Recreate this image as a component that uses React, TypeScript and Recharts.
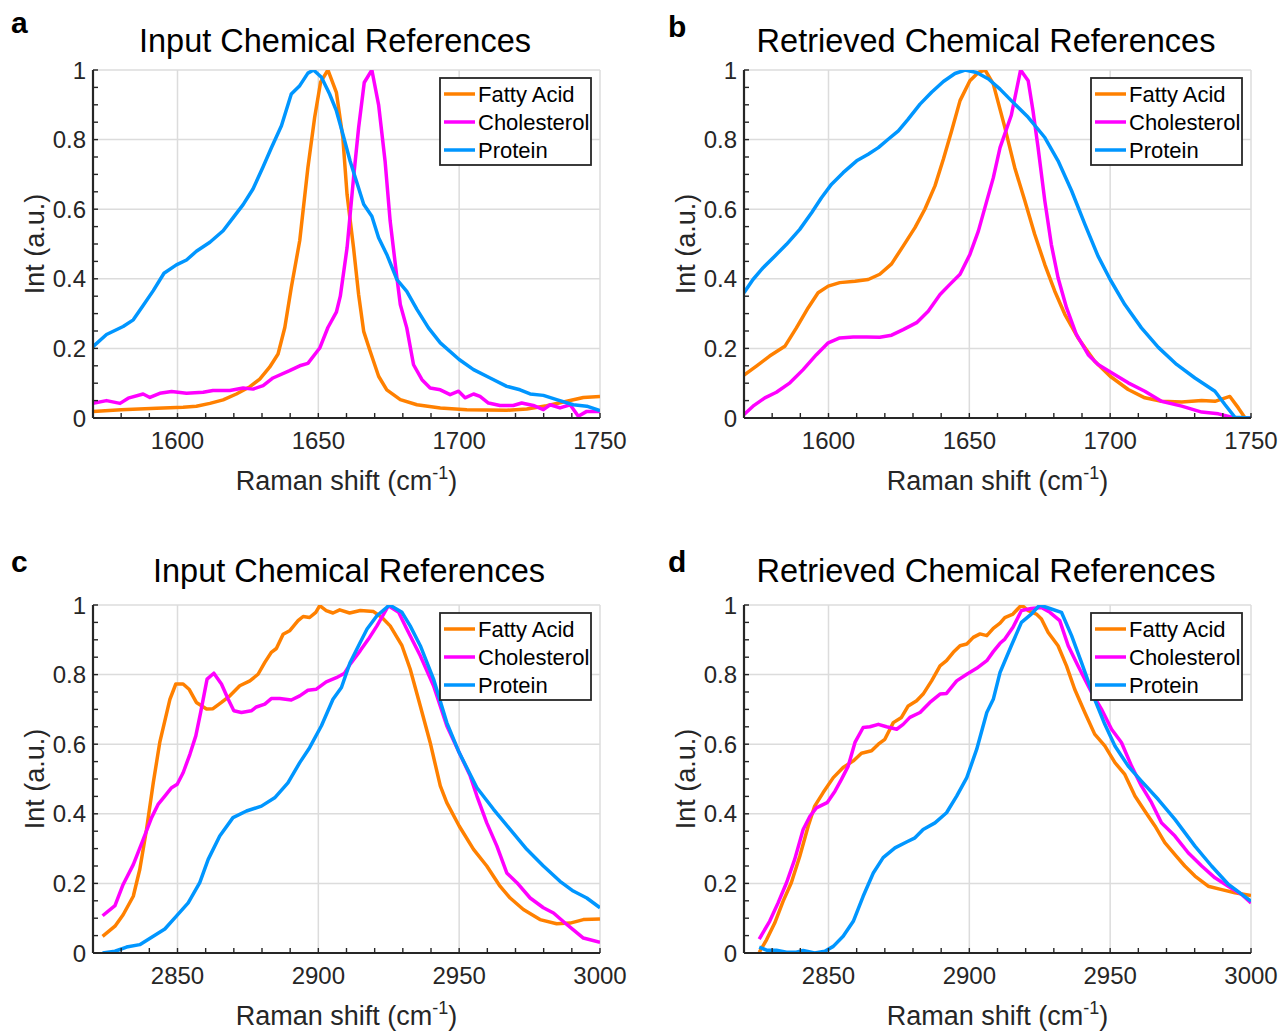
import React from 'react';
import { LineChart, Line, XAxis, YAxis, CartesianGrid } from 'recharts';

// ---------------- data ----------------
const seriesNames = ['Fatty Acid', 'Cholesterol', 'Protein'];
const seriesColors = ['#FF8000', '#FF00FF', '#0096FF'];

const lowDomain = [1570, 1750];
const lowTicks = [1580, 1590, 1600, 1610, 1620, 1630, 1640, 1650, 1660, 1670, 1680, 1690, 1700, 1710, 1720, 1730, 1740, 1750];
const lowMajor = [1600, 1650, 1700, 1750];
const highDomain = [2820, 3000];
const highTicks = [2830, 2840, 2850, 2860, 2870, 2880, 2890, 2900, 2910, 2920, 2930, 2940, 2950, 2960, 2970, 2980, 2990, 3000];
const highMajor = [2850, 2900, 2950, 3000];
const yTicks = [0, 0.05, 0.1, 0.15, 0.2, 0.25, 0.3, 0.35, 0.4, 0.45, 0.5, 0.55, 0.6, 0.65, 0.7, 0.75, 0.8, 0.85, 0.9, 0.95, 1];
const yMajor = [0, 0.2, 0.4, 0.6, 0.8, 1];
const yMajorLabels = ['0', '0.2', '0.4', '0.6', '0.8', '1'];

const panelTitles = ['Input Chemical References', 'Retrieved Chemical References'];
const panelLetters = ['a', 'b', 'c', 'd'];

type P = [number, number];

const aFatty: P[] = [[1570,0.019],[1580,0.024],[1592.6,0.028],[1602,0.031],[1606.7,0.034],[1611.5,0.042],[1616.2,0.052],[1620.9,0.069],[1625.7,0.09],[1629.2,0.112],[1632.7,0.146],[1635.7,0.184],[1638.1,0.26],[1640.4,0.375],[1643.4,0.51],[1646.3,0.72],[1648.7,0.864],[1650.8,0.965],[1653.4,1.0],[1656.4,0.936],[1658.7,0.806],[1660.2,0.642],[1662.5,0.489],[1664.3,0.355],[1666.1,0.249],[1668.4,0.192],[1671.4,0.12],[1674.3,0.081],[1679.1,0.053],[1685,0.038],[1693.3,0.029],[1702.7,0.024],[1716.9,0.022],[1724,0.026],[1731.1,0.035],[1738.2,0.048],[1744.1,0.059],[1750,0.062]];
const aChol: P[] = [[1570,0.042],[1574.8,0.05],[1579.6,0.042],[1582.5,0.057],[1587.8,0.069],[1590.2,0.059],[1593.7,0.071],[1597.9,0.076],[1603.2,0.071],[1609.1,0.074],[1612.6,0.079],[1618.6,0.079],[1623.3,0.086],[1626.8,0.083],[1630.4,0.093],[1633.9,0.115],[1639.8,0.136],[1643.4,0.15],[1646.3,0.157],[1650.5,0.201],[1653.4,0.26],[1656.4,0.304],[1657.8,0.35],[1660.2,0.489],[1662.5,0.69],[1664.3,0.834],[1666.3,0.964],[1669,1.0],[1671.4,0.9],[1673.7,0.738],[1675.5,0.566],[1677.9,0.403],[1679.1,0.326],[1681.4,0.259],[1683.8,0.153],[1686.8,0.11],[1689.7,0.086],[1693.3,0.081],[1696.8,0.067],[1699.8,0.077],[1702.1,0.058],[1705.1,0.069],[1707.4,0.062],[1710.4,0.043],[1714.5,0.036],[1719.2,0.036],[1722.2,0.043],[1726.3,0.036],[1729.9,0.024],[1732.3,0.038],[1735.8,0.029],[1739.4,0.038],[1742.3,0.005],[1745.3,0.019],[1750,0.019]];
const aProt: P[] = [[1570,0.205],[1574.8,0.24],[1580.7,0.263],[1584.3,0.282],[1587.8,0.323],[1591.4,0.366],[1595.2,0.416],[1599.6,0.44],[1603.2,0.454],[1606.7,0.479],[1611.5,0.505],[1616.2,0.538],[1619.7,0.575],[1623.3,0.613],[1626.8,0.658],[1630.4,0.722],[1633.3,0.776],[1636.9,0.84],[1640.4,0.931],[1643.4,0.955],[1646.3,0.991],[1648.3,1.0],[1651.1,0.979],[1654,0.931],[1656.4,0.883],[1658.7,0.816],[1661.3,0.738],[1666.1,0.614],[1669,0.58],[1671.4,0.518],[1674.3,0.47],[1677.9,0.398],[1681.4,0.364],[1685,0.312],[1689.1,0.259],[1693.3,0.216],[1700,0.168],[1705.1,0.139],[1711,0.115],[1716.9,0.091],[1721.6,0.081],[1725.2,0.069],[1729.9,0.065],[1734.6,0.053],[1740.5,0.038],[1745.3,0.034],[1750,0.021]];

const bFatty: P[] = [[1570,0.123],[1574.4,0.149],[1579.1,0.178],[1584.5,0.206],[1588.6,0.259],[1592.8,0.317],[1596.3,0.36],[1599.9,0.379],[1604,0.389],[1609.4,0.393],[1614.1,0.398],[1618.2,0.413],[1622.4,0.443],[1626.5,0.494],[1630.7,0.547],[1634.2,0.6],[1637.8,0.667],[1640.8,0.744],[1643.7,0.825],[1646.7,0.912],[1650.2,0.969],[1653.2,0.993],[1655.6,1.0],[1658.5,0.96],[1662.6,0.835],[1666.1,0.72],[1669.7,0.624],[1673.2,0.528],[1676.8,0.441],[1680.3,0.365],[1683.9,0.298],[1688.6,0.23],[1694.5,0.163],[1700,0.12],[1706.4,0.082],[1712.3,0.058],[1718.2,0.048],[1725.4,0.046],[1732.5,0.05],[1737.2,0.048],[1742.5,0.062],[1745.5,0.029],[1747.9,0.0],[1750,0.0]];
const bChol: P[] = [[1570,0.01],[1573.2,0.034],[1577.4,0.058],[1581.5,0.074],[1586.3,0.101],[1591,0.139],[1595.7,0.182],[1599.9,0.216],[1604,0.23],[1608.8,0.233],[1613.5,0.233],[1618.2,0.232],[1622.4,0.238],[1626.5,0.254],[1631.3,0.274],[1635.4,0.307],[1639.6,0.355],[1643.1,0.384],[1646.7,0.413],[1650.2,0.47],[1653.2,0.537],[1656.2,0.624],[1658.5,0.69],[1660.9,0.777],[1664.9,0.87],[1668.2,1.0],[1670.9,0.969],[1672.6,0.883],[1674.4,0.777],[1676.8,0.624],[1679.1,0.499],[1681.5,0.403],[1684.5,0.317],[1688,0.24],[1692.2,0.182],[1695.7,0.154],[1700.5,0.13],[1706.4,0.101],[1712.3,0.077],[1718.2,0.048],[1725.4,0.034],[1732.5,0.017],[1738.4,0.012],[1744.3,0.0],[1750,0.0]];
const bProt: P[] = [[1570,0.36],[1573.2,0.398],[1576.8,0.432],[1580.9,0.465],[1585.1,0.499],[1589.8,0.542],[1594,0.59],[1597.5,0.633],[1601.1,0.672],[1605.2,0.705],[1610,0.739],[1614.1,0.758],[1617.7,0.777],[1621.2,0.801],[1624.8,0.825],[1628.3,0.859],[1632.5,0.902],[1636.6,0.936],[1640.8,0.967],[1644.9,0.99],[1648.5,1.0],[1652.6,0.993],[1656.8,0.974],[1660.9,0.945],[1664.9,0.912],[1670.9,0.864],[1676.8,0.806],[1681.5,0.739],[1686.3,0.653],[1691,0.557],[1695.7,0.465],[1700,0.398],[1705.2,0.326],[1711.1,0.259],[1717.1,0.203],[1723.6,0.154],[1730.1,0.115],[1737.2,0.077],[1740.8,0.038],[1744.3,0.002],[1750,0.0]];

const cFatty: P[] = [[2823.4,0.048],[2827.8,0.077],[2830.7,0.11],[2834.3,0.163],[2836.6,0.24],[2839,0.355],[2841.4,0.489],[2843.7,0.605],[2847.3,0.729],[2849.4,0.773],[2852,0.773],[2854.1,0.758],[2856.7,0.72],[2860.3,0.701],[2862.6,0.702],[2865.6,0.72],[2868.6,0.739],[2872.1,0.768],[2875.7,0.782],[2878.6,0.801],[2881,0.835],[2883.3,0.864],[2885.1,0.875],[2887.5,0.916],[2889.8,0.926],[2892.8,0.955],[2894.6,0.967],[2896.9,0.964],[2899.1,0.979],[2900.5,0.998],[2902.8,0.984],[2905.2,0.977],[2907.6,0.986],[2911.1,0.977],[2914.9,0.984],[2919.6,0.981],[2922.6,0.964],[2925.5,0.94],[2929.7,0.883],[2932.6,0.816],[2936.2,0.71],[2939.7,0.605],[2943.3,0.48],[2945.6,0.432],[2950,0.365],[2955.1,0.298],[2959.8,0.25],[2964.5,0.192],[2968.1,0.158],[2972.8,0.125],[2978.7,0.096],[2984.6,0.084],[2989.4,0.086],[2994.1,0.096],[3000,0.098]];
const cChol: P[] = [[2823.4,0.107],[2827.8,0.136],[2830.7,0.197],[2834.3,0.254],[2837.8,0.326],[2840.8,0.389],[2843.1,0.427],[2845.5,0.451],[2847.9,0.475],[2849.9,0.485],[2852,0.518],[2854.4,0.571],[2856.5,0.624],[2858.2,0.691],[2860.5,0.787],[2862.9,0.804],[2865.6,0.773],[2868,0.729],[2870,0.696],[2872.7,0.691],[2876.2,0.696],[2878,0.707],[2881,0.715],[2883.3,0.731],[2886.3,0.731],[2890.4,0.727],[2893.4,0.739],[2896.3,0.755],[2899.3,0.758],[2902.8,0.779],[2906.4,0.791],[2909.3,0.804],[2911.3,0.83],[2914.9,0.869],[2917.8,0.902],[2920.8,0.94],[2924.9,0.998],[2928.5,0.979],[2931.4,0.931],[2936.2,0.854],[2940.9,0.768],[2945.6,0.653],[2950,0.576],[2953.9,0.509],[2956.3,0.451],[2959.8,0.374],[2963.4,0.307],[2966.9,0.23],[2970.5,0.202],[2975.2,0.158],[2979.9,0.13],[2983.5,0.115],[2988.2,0.082],[2994.1,0.043],[3000,0.031]];
const cProt: P[] = [[2823.4,0.0],[2827.8,0.005],[2831.9,0.017],[2836.6,0.024],[2841.4,0.048],[2845.5,0.069],[2849.6,0.106],[2853.8,0.144],[2857.9,0.202],[2860.9,0.269],[2865,0.336],[2869.7,0.389],[2874.5,0.408],[2879.8,0.422],[2884.5,0.446],[2889.2,0.489],[2893.4,0.547],[2896.9,0.59],[2901.1,0.653],[2905.2,0.729],[2908.2,0.763],[2911.3,0.835],[2914.9,0.893],[2917.3,0.931],[2920.8,0.969],[2925.3,1.0],[2929.7,0.979],[2932.6,0.94],[2936.2,0.883],[2940.9,0.787],[2945.6,0.662],[2950,0.576],[2956.3,0.475],[2962.2,0.413],[2968.1,0.355],[2974,0.298],[2979.9,0.25],[2985.8,0.206],[2990.5,0.178],[2995.3,0.158],[3000,0.13]];

const dFatty: P[] = [[2825.4,0.002],[2828,0.038],[2830.9,0.086],[2833.9,0.149],[2836.8,0.202],[2839.8,0.278],[2842.8,0.365],[2845.1,0.422],[2848.1,0.461],[2851.7,0.504],[2855.2,0.533],[2858.8,0.552],[2861.7,0.574],[2865.3,0.581],[2867.7,0.6],[2870,0.614],[2873,0.662],[2875.9,0.677],[2878.3,0.71],[2881.3,0.725],[2883.6,0.744],[2886.6,0.782],[2889.6,0.825],[2891.9,0.84],[2894.3,0.864],[2896.7,0.883],[2899.1,0.888],[2901.4,0.907],[2903.8,0.917],[2906.2,0.912],[2908.5,0.933],[2910.9,0.948],[2912.6,0.964],[2915.5,0.974],[2918.5,1.0],[2920.9,0.984],[2923.8,0.974],[2925.6,0.96],[2928,0.921],[2931.5,0.883],[2934.5,0.825],[2937.4,0.758],[2941,0.691],[2944.5,0.629],[2948.1,0.595],[2951.7,0.547],[2955.2,0.513],[2958.8,0.451],[2962.3,0.408],[2965.9,0.365],[2969.4,0.317],[2973,0.283],[2976.5,0.25],[2980.1,0.221],[2984.8,0.192],[2989.6,0.182],[2994.3,0.173],[3000,0.165]];
const dChol: P[] = [[2825.4,0.04],[2829.1,0.091],[2832.1,0.144],[2835.1,0.202],[2838,0.269],[2841,0.355],[2843.4,0.393],[2845.7,0.417],[2849.5,0.432],[2852.3,0.465],[2854.6,0.499],[2857,0.537],[2859.4,0.605],[2862.3,0.648],[2864.7,0.65],[2867.7,0.657],[2870.6,0.65],[2874.2,0.643],[2876.5,0.657],[2878.9,0.677],[2882.5,0.691],[2886,0.72],[2889.6,0.744],[2891.9,0.746],[2895.5,0.782],[2899.1,0.801],[2902.6,0.818],[2906.2,0.84],[2908.5,0.866],[2910.9,0.89],[2912.6,0.902],[2915.5,0.936],[2918.5,0.984],[2922,0.99],[2925.6,0.993],[2928.6,0.979],[2932.1,0.955],[2935.1,0.883],[2938.6,0.825],[2943.4,0.749],[2946.9,0.701],[2950.5,0.643],[2954,0.605],[2957.6,0.537],[2961.1,0.48],[2964.7,0.432],[2968.2,0.374],[2973,0.336],[2977.7,0.288],[2982.5,0.25],[2987.2,0.216],[2991.9,0.192],[2996.7,0.168],[3000,0.144]];
const dProt: P[] = [[2825.4,0.017],[2828,0.008],[2831.5,0.008],[2835.1,0.002],[2838.6,0.002],[2841,0.007],[2845.1,0.0],[2848.7,0.005],[2851.7,0.019],[2855.2,0.048],[2858.8,0.091],[2862.3,0.163],[2865.9,0.23],[2869.4,0.274],[2873.6,0.302],[2877.7,0.319],[2880.7,0.331],[2883.6,0.355],[2887.8,0.374],[2891.9,0.403],[2895.5,0.451],[2899.1,0.504],[2902.6,0.585],[2906.2,0.691],[2908.5,0.729],[2910.9,0.806],[2914.9,0.883],[2918.5,0.95],[2922,0.974],[2925,1.0],[2928.6,0.99],[2932.7,0.979],[2936.3,0.912],[2939.8,0.835],[2944.5,0.729],[2948.1,0.657],[2951.7,0.595],[2956.4,0.537],[2961.1,0.494],[2967.1,0.441],[2973,0.384],[2980.1,0.307],[2986,0.25],[2992,0.197],[3000,0.149]];

// ---------------- styles / layout ----------------
const FONT = '"Liberation Sans", Arial, Helvetica, sans-serif';
const AXIS = '#262626';
const GRID = '#dcdcdc';
const TICK_LEN = 5;
const LINE_W = 3.5;
const W = 630;
const H = 520;
const PLOT_L = 93;
const PLOT_T = 70;
const PLOT_R = 600;
const PLOT_B = 418;
const XAXIS_H = 40;
const YAXIS_W = 60;

const toRows = (pts: P[]) => pts.map(([x, y]) => ({ x, y }));

const bottomTick = (majors: number[]) => (props: any) => {
  const { x, y, payload } = props;
  const v = payload.value;
  return (
    <g>
      <line x1={x} y1={y} x2={x} y2={y - TICK_LEN} stroke={AXIS} strokeWidth={1.4} />
      {majors.includes(v) && (
        <text x={x} y={y + 31} textAnchor="middle" fontSize={24} fontFamily={FONT} fill={AXIS}>
          {v}
        </text>
      )}
    </g>
  );
};
const topTick = (props: any) => {
  const { x, y } = props;
  return <line x1={x} y1={y} x2={x} y2={y + TICK_LEN} stroke={AXIS} strokeWidth={1.4} />;
};
const leftTick = (props: any) => {
  const { x, y, payload } = props;
  const idx = yMajor.indexOf(payload.value);
  return (
    <g>
      <line x1={x} y1={y} x2={x + TICK_LEN} y2={y} stroke={AXIS} strokeWidth={1.4} />
      {idx >= 0 && (
        <text x={x - 7} y={y + 8.5} textAnchor="end" fontSize={24} fontFamily={FONT} fill={AXIS}>
          {yMajorLabels[idx]}
        </text>
      )}
    </g>
  );
};
const rightTick = (props: any) => {
  const { x, y } = props;
  return <line x1={x} y1={y} x2={x - TICK_LEN} y2={y} stroke={AXIS} strokeWidth={1.4} />;
};

type PanelProps = {
  left: number;
  top: number;
  letter: string;
  letterX: number;
  letterY: number;
  title: string;
  titleX: number;
  titleY: number;
  domain: number[];
  ticks: number[];
  majors: number[];
  series: P[][];
};

function Panel(p: PanelProps) {
  const frame = { stroke: AXIS, strokeWidth: 2.2 };
  return (
    <div style={{ position: 'absolute', left: p.left, top: p.top, width: W, height: H }}>
      <LineChart
        width={W}
        height={H}
        margin={{ top: PLOT_T, right: W - PLOT_R, bottom: H - PLOT_B - XAXIS_H, left: PLOT_L - YAXIS_W }}
      >
        <CartesianGrid
          xAxisId="b"
          yAxisId="l"
          stroke={GRID}
          strokeWidth={1.5}
          verticalValues={p.majors}
          horizontalValues={yMajor}
        />
        <XAxis
          xAxisId="b"
          dataKey="x"
          type="number"
          domain={p.domain}
          allowDataOverflow
          ticks={p.ticks}
          interval={0}
          height={XAXIS_H}
          tickSize={0}
          tickMargin={0}
          tickLine={false}
          axisLine={frame}
          tick={bottomTick(p.majors)}
        />
        <XAxis
          xAxisId="t"
          orientation="top"
          type="number"
          domain={p.domain}
          allowDataOverflow
          ticks={p.ticks}
          interval={0}
          height={0}
          tickSize={0}
          tickMargin={0}
          tickLine={false}
          axisLine={frame}
          tick={topTick}
        />
        <YAxis
          yAxisId="l"
          type="number"
          domain={[0, 1]}
          allowDataOverflow
          ticks={yTicks}
          interval={0}
          width={YAXIS_W}
          tickSize={0}
          tickMargin={0}
          tickLine={false}
          axisLine={frame}
          tick={leftTick}
        />
        <YAxis
          yAxisId="r"
          orientation="right"
          type="number"
          domain={[0, 1]}
          allowDataOverflow
          ticks={yTicks}
          interval={0}
          width={0}
          tickSize={0}
          tickMargin={0}
          tickLine={false}
          axisLine={frame}
          tick={rightTick}
        />
        {p.series.map((s, i) => (
          <Line
            key={seriesNames[i]}
            name={seriesNames[i]}
            data={toRows(s)}
            dataKey="y"
            xAxisId="b"
            yAxisId="l"
            type="linear"
            stroke={seriesColors[i]}
            strokeWidth={LINE_W}
            strokeLinejoin="round"
            dot={false}
            activeDot={false}
            isAnimationActive={false}
          />
        ))}
      </LineChart>
      <svg
        width={W}
        height={H}
        style={{ position: 'absolute', left: 0, top: 0, pointerEvents: 'none' }}
        fontFamily={FONT}
      >
        <text x={p.letterX} y={p.letterY} fontSize={30} fontWeight="bold" fill="#000">
          {p.letter}
        </text>
        <text x={p.titleX} y={p.titleY} fontSize={32.5} textAnchor="middle" fill="#000">
          {p.title}
        </text>
        <text x={(PLOT_L + PLOT_R) / 2} y={PLOT_B + 72} fontSize={27} textAnchor="middle" fill={AXIS}>
          Raman shift (cm
          <tspan dy={-11} fontSize={18}>
            -1
          </tspan>
          <tspan dy={11}>)</tspan>
        </text>
        <text
          transform={`translate(44, ${(PLOT_T + PLOT_B) / 2}) rotate(-90)`}
          fontSize={27}
          textAnchor="middle"
          fill={AXIS}
        >
          Int (a.u.)
        </text>
        <g>
          <rect x={440} y={78} width={151} height={87} fill="#fff" stroke={AXIS} strokeWidth={1.8} />
          {seriesNames.map((n, i) => (
            <g key={n}>
              <line x1={444} x2={475} y1={94 + 28 * i} y2={94 + 28 * i} stroke={seriesColors[i]} strokeWidth={LINE_W} />
              <text x={478} y={94 + 28 * i + 8} fontSize={22} fill="#000">
                {n}
              </text>
            </g>
          ))}
        </g>
      </svg>
    </div>
  );
}

export default function App() {
  return (
    <div style={{ position: 'fixed', left: 0, top: 0, width: 1283, height: 1032, background: '#fff', overflow: 'hidden' }}>
      <Panel left={0} top={0} letter={panelLetters[0]} letterX={11} letterY={33} title={panelTitles[0]} titleX={335} titleY={52}
        domain={lowDomain} ticks={lowTicks} majors={lowMajor} series={[aFatty, aChol, aProt]} />
      <Panel left={651} top={0} letter={panelLetters[1]} letterX={17} letterY={37} title={panelTitles[1]} titleX={335} titleY={52}
        domain={lowDomain} ticks={lowTicks} majors={lowMajor} series={[bFatty, bChol, bProt]} />
      <Panel left={0} top={535} letter={panelLetters[2]} letterX={11} letterY={37} title={panelTitles[0]} titleX={349} titleY={47}
        domain={highDomain} ticks={highTicks} majors={highMajor} series={[cFatty, cChol, cProt]} />
      <Panel left={651} top={535} letter={panelLetters[3]} letterX={17} letterY={37} title={panelTitles[1]} titleX={335} titleY={47}
        domain={highDomain} ticks={highTicks} majors={highMajor} series={[dFatty, dChol, dProt]} />
    </div>
  );
}
